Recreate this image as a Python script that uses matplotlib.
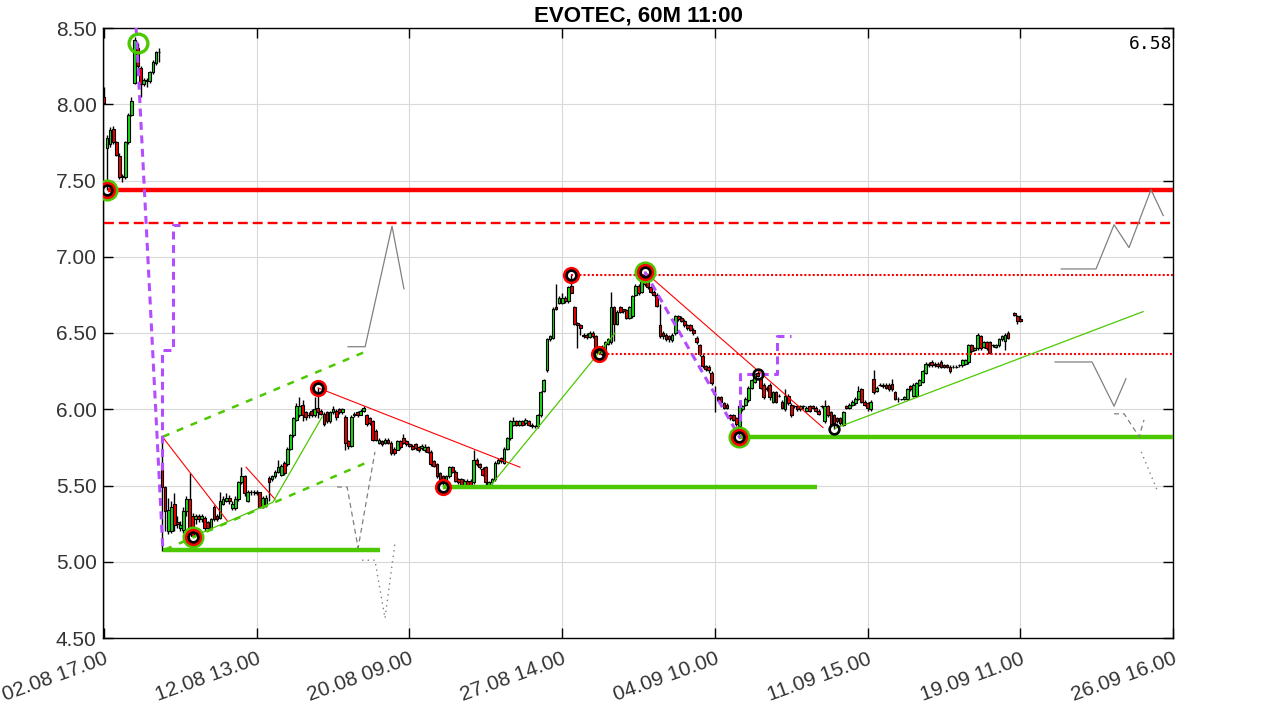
import numpy as np
import matplotlib.pyplot as plt

nan = np.nan

# hourly candles, index 0 = 02.08 17.00
opens = [8.05, 7.71, 7.74, 7.84, 7.75, 7.66, 7.53, 7.52, 7.75, 7.93,
         8.14, 8.37, 8.24, 8.13, 8.16, 8.15, 8.21, 8.27, 8.34, 5.64,
         5.49, 5.20, 5.20, 5.38, 5.26, 5.22, 5.21, 5.33, 5.41, 5.30,
         5.28, 5.30, 5.28, 5.29, 5.26, 5.22, 5.36, 5.30, 5.29, 5.38,
         5.40, 5.42, 5.35, 5.35, 5.41, 5.52, 5.56, 5.40, 5.455, 5.455,
         5.46, 5.455, 5.36, 5.37, 5.55, 5.54, 5.56, 5.59, 5.57, 5.65,
         5.64, 5.74, 5.83, 5.93, 5.96, 6.03, 5.98, 5.96, 5.99, 5.96,
         6.01, 5.99, 5.97, 5.98, 5.92, 5.98, 5.99, 6.00, 5.98, 5.95,
         5.795, 5.76, 5.96, 5.98, 5.965, 5.99, 5.965, 5.94, 5.92, 5.86,
         5.78, 5.795, 5.78, 5.80, 5.78, 5.74, 5.735, 5.79, 5.81, 5.79,
         5.77, 5.76, 5.77, 5.75, 5.745, 5.735, 5.75, 5.72, 5.66, 5.64,
         5.585, 5.56, 5.52, 5.56, 5.62, 5.59, 5.54, 5.54, 5.50, 5.53,
         5.53, 5.52, 5.67, 5.64, 5.61, 5.62, 5.50, 5.52, 5.54, 5.65,
         5.68, 5.65, 5.74, 5.81, 5.90, 5.92, 5.90, 5.92, 5.91, 5.92,
         5.90, 5.89, 5.89, 5.96, 6.12, 6.26, 6.46, 6.47, 6.67, 6.70,
         6.70, 6.73, 6.71, 6.805, 6.67, 6.565, 6.55, 6.49, 6.49, 6.475,
         6.50, 6.48, 6.40, 6.36, 6.385, 6.43, 6.44, 6.67, 6.56, 6.67,
         6.655, 6.65, 6.60, 6.61, 6.75, 6.81, 6.77, 6.88, 6.86, 6.80,
         6.77, 6.75, 6.55, 6.50, 6.49, 6.48, 6.455, 6.50, 6.61, 6.60,
         6.58, 6.555, 6.55, 6.52, 6.47, 6.42, 6.35, 6.285, 6.28, 6.24,
         6.10, 6.08, 6.08, 6.04, 6.03, 5.96, 5.96, 5.94, 5.89, 6.00,
         6.03, 6.06, 6.14, 6.18, 6.235, 6.20, 6.16, 6.14, 6.16, 6.05,
         6.11, 6.09, 6.05, 6.00, 6.09, 6.03, 6.02, 6.02, 6.00, 6.02,
         5.99, 6.02, 6.02, 6.01, 5.99, 6.02, 5.92, 6.02, 5.98, 5.96,
         5.945, 5.94, 5.90, 6.02, 6.01, 6.03, 6.04, 6.07, 6.13, 6.05,
         6.04, 6.00, 6.20, 6.12, 6.16, 6.16, 6.16, 6.16, 6.165, 6.11,
         6.07, 6.065, 6.07, 6.07, 6.15, 6.09, 6.09, 6.16, 6.18, 6.24,
         6.29, 6.31, 6.30, 6.30, 6.31, 6.29, 6.29, 6.28, 6.28, 6.28,
         6.29, 6.29, 6.30, 6.31, 6.42, 6.39, 6.40, 6.48, 6.41, 6.44,
         6.44, 6.42, 6.41, 6.42, 6.46, 6.45, 6.50, nan, 6.63, 6.61,
         6.59]
closes = [8.01, 7.78, 7.83, 7.75, 7.67, 7.52, 7.52, 7.75, 7.93, 8.02,
          8.42, 8.25, 8.13, 8.16, 8.15, 8.21, 8.28, 8.34, 8.34, 5.49,
          5.33, 5.34, 5.36, 5.24, 5.25, 5.24, 5.33, 5.41, 5.19, 5.17,
          5.30, 5.28, 5.30, 5.22, 5.22, 5.28, 5.28, 5.28, 5.40, 5.41,
          5.42, 5.40, 5.38, 5.41, 5.52, 5.56, 5.45, 5.455, 5.46, 5.455,
          5.45, 5.36, 5.42, 5.42, 5.52, 5.56, 5.59, 5.62, 5.63, 5.58,
          5.74, 5.83, 5.94, 6.02, 6.02, 5.96, 5.95, 5.96, 5.96, 6.00,
          5.98, 5.97, 5.90, 5.92, 5.98, 6.00, 5.95, 5.98, 6.00, 5.78,
          5.76, 5.95, 5.97, 5.96, 5.99, 6.01, 5.90, 5.91, 5.80, 5.80,
          5.80, 5.775, 5.80, 5.78, 5.715, 5.715, 5.79, 5.75, 5.78, 5.77,
          5.76, 5.74, 5.745, 5.73, 5.76, 5.755, 5.72, 5.64, 5.63, 5.56,
          5.54, 5.52, 5.56, 5.62, 5.59, 5.53, 5.52, 5.50, 5.53, 5.50,
          5.50, 5.67, 5.64, 5.62, 5.57, 5.52, 5.52, 5.54, 5.65, 5.67,
          5.66, 5.74, 5.81, 5.92, 5.92, 5.90, 5.92, 5.90, 5.93, 5.90,
          5.89, 5.89, 5.96, 6.11, 6.195, 6.46, 6.48, 6.66, 6.655, 6.73,
          6.73, 6.71, 6.80, 6.765, 6.56, 6.55, 6.53, 6.48, 6.475, 6.50,
          6.48, 6.38, 6.37, 6.41, 6.44, 6.46, 6.67, 6.56, 6.64, 6.64,
          6.645, 6.60, 6.67, 6.74, 6.81, 6.76, 6.84, 6.82, 6.80, 6.77,
          6.75, 6.68, 6.48, 6.48, 6.46, 6.46, 6.49, 6.61, 6.595, 6.58,
          6.55, 6.53, 6.52, 6.50, 6.44, 6.36, 6.285, 6.265, 6.255, 6.17,
          6.10, 6.06, 6.05, 6.01, 6.01, 5.94, 5.93, 5.90, 6.02, 6.02,
          6.07, 6.14, 6.19, 6.23, 6.22, 6.14, 6.08, 6.13, 6.08, 6.11,
          6.05, 6.09, 6.01, 6.09, 6.04, 5.96, 6.02, 6.00, 6.02, 6.02,
          6.01, 5.99, 6.01, 5.99, 5.97, 6.02, 6.02, 5.965, 5.90, 5.91,
          5.92, 5.91, 5.98, 6.01, 6.03, 6.05, 6.07, 6.12, 6.05, 6.03,
          6.01, 6.05, 6.11, 6.14, 6.16, 6.15, 6.14, 6.13, 6.13, 6.07,
          6.065, 6.065, 6.08, 6.13, 6.13, 6.16, 6.17, 6.19, 6.25, 6.30,
          6.30, 6.29, 6.29, 6.285, 6.28, 6.28, 6.28, 6.25, 6.28, 6.28,
          6.29, 6.325, 6.32, 6.42, 6.38, 6.40, 6.49, 6.40, 6.44, 6.40,
          6.37, 6.42, 6.42, 6.46, 6.48, 6.49, 6.47, nan, 6.62, 6.58,
          6.58]
highs = [8.11, 7.80, 7.85, 7.86, 7.76, 7.68, 7.54, 7.76, 7.94, 8.05,
         8.44, 8.40, 8.25, 8.17, 8.17, 8.22, 8.29, 8.35, 8.37, 5.82,
         5.50, 5.42, 5.40, 5.45, 5.30, 5.27, 5.36, 5.43, 5.58, 5.32,
         5.31, 5.31, 5.31, 5.30, 5.27, 5.29, 5.37, 5.31, 5.46, 5.43,
         5.45, 5.44, 5.40, 5.43, 5.53, 5.62, 5.57, 5.47, 5.47, 5.47,
         5.47, 5.46, 5.43, 5.44, 5.56, 5.57, 5.60, 5.67, 5.64, 5.66,
         5.75, 5.84, 5.95, 6.04, 6.08, 6.06, 5.99, 5.98, 6.00, 6.08,
         6.14, 6.00, 5.98, 5.99, 5.99, 6.02, 6.00, 6.01, 6.01, 5.96,
         5.80, 5.96, 5.98, 5.99, 6.00, 6.02, 5.97, 5.95, 5.93, 5.87,
         5.81, 5.80, 5.81, 5.81, 5.79, 5.75, 5.80, 5.80, 5.84, 5.80,
         5.78, 5.77, 5.78, 5.76, 5.77, 5.77, 5.76, 5.73, 5.67, 5.65,
         5.59, 5.57, 5.57, 5.63, 5.63, 5.60, 5.55, 5.55, 5.54, 5.54,
         5.54, 5.73, 5.68, 5.65, 5.62, 5.63, 5.53, 5.55, 5.66, 5.68,
         5.69, 5.75, 5.82, 5.93, 5.95, 5.93, 5.93, 5.93, 5.94, 5.93,
         5.91, 5.90, 5.97, 6.12, 6.20, 6.47, 6.49, 6.67, 6.82, 6.74,
         6.76, 6.74, 6.81, 6.88, 6.68, 6.57, 6.56, 6.50, 6.50, 6.51,
         6.51, 6.49, 6.41, 6.42, 6.45, 6.47, 6.77, 6.68, 6.65, 6.68,
         6.66, 6.66, 6.68, 6.75, 6.82, 6.82, 6.85, 6.90, 6.87, 6.81,
         6.78, 6.76, 6.69, 6.51, 6.50, 6.49, 6.50, 6.62, 6.62, 6.61,
         6.59, 6.56, 6.56, 6.53, 6.48, 6.43, 6.36, 6.29, 6.29, 6.25,
         6.15, 6.09, 6.09, 6.05, 6.04, 5.97, 5.97, 5.95, 6.03, 6.03,
         6.08, 6.15, 6.20, 6.24, 6.25, 6.21, 6.17, 6.15, 6.17, 6.12,
         6.12, 6.10, 6.06, 6.13, 6.10, 6.04, 6.03, 6.03, 6.03, 6.03,
         6.02, 6.03, 6.03, 6.02, 6.00, 6.03, 6.06, 6.03, 5.99, 5.97,
         5.95, 5.95, 5.99, 6.03, 6.04, 6.06, 6.08, 6.15, 6.14, 6.06,
         6.05, 6.06, 6.26, 6.15, 6.17, 6.17, 6.17, 6.17, 6.20, 6.12,
         6.08, 6.07, 6.09, 6.14, 6.16, 6.17, 6.18, 6.20, 6.26, 6.31,
         6.31, 6.32, 6.31, 6.31, 6.32, 6.30, 6.30, 6.29, 6.29, 6.29,
         6.30, 6.33, 6.33, 6.43, 6.43, 6.41, 6.50, 6.49, 6.45, 6.45,
         6.45, 6.43, 6.43, 6.47, 6.49, 6.50, 6.51, nan, 6.64, 6.62,
         6.62]
lows = [8.00, 7.44, 7.72, 7.74, 7.66, 7.51, 7.49, 7.51, 7.74, 7.92,
        8.13, 8.24, 8.05, 8.12, 8.11, 8.14, 8.20, 8.26, 8.28, 5.07,
        5.20, 5.18, 5.19, 5.20, 5.22, 5.20, 5.19, 5.30, 5.18, 5.16,
        5.25, 5.26, 5.26, 5.20, 5.21, 5.21, 5.27, 5.27, 5.28, 5.37,
        5.39, 5.38, 5.34, 5.34, 5.40, 5.51, 5.43, 5.39, 5.44, 5.44,
        5.44, 5.35, 5.35, 5.36, 5.40, 5.53, 5.55, 5.58, 5.56, 5.57,
        5.63, 5.73, 5.82, 5.92, 5.95, 5.92, 5.93, 5.94, 5.95, 5.95,
        5.94, 5.96, 5.89, 5.91, 5.91, 5.97, 5.93, 5.97, 5.97, 5.73,
        5.74, 5.75, 5.95, 5.95, 5.96, 5.98, 5.89, 5.90, 5.79, 5.79,
        5.77, 5.76, 5.77, 5.77, 5.70, 5.70, 5.73, 5.74, 5.77, 5.76,
        5.75, 5.73, 5.73, 5.72, 5.73, 5.72, 5.71, 5.63, 5.62, 5.55,
        5.53, 5.49, 5.51, 5.55, 5.58, 5.52, 5.51, 5.49, 5.49, 5.49,
        5.49, 5.51, 5.63, 5.61, 5.56, 5.50, 5.49, 5.51, 5.53, 5.64,
        5.65, 5.64, 5.73, 5.80, 5.89, 5.89, 5.89, 5.89, 5.90, 5.89,
        5.88, 5.88, 5.88, 5.95, 6.11, 6.245, 6.45, 6.46, 6.65, 6.69,
        6.69, 6.70, 6.70, 6.76, 6.55, 6.40, 6.49, 6.47, 6.46, 6.47,
        6.47, 6.37, 6.36, 6.35, 6.38, 6.42, 6.43, 6.45, 6.55, 6.63,
        6.63, 6.59, 6.59, 6.60, 6.74, 6.75, 6.76, 6.81, 6.79, 6.76,
        6.74, 6.67, 6.47, 6.46, 6.45, 6.44, 6.44, 6.49, 6.58, 6.57,
        6.54, 6.52, 6.51, 6.49, 6.43, 6.35, 6.27, 6.25, 6.24, 6.16,
        5.98, 6.05, 6.04, 6.00, 6.00, 5.93, 5.92, 5.89, 5.81, 5.99,
        6.02, 6.05, 6.13, 6.17, 6.21, 6.13, 6.07, 6.12, 6.06, 6.04,
        6.04, 6.08, 6.00, 5.99, 6.03, 5.95, 6.01, 5.99, 5.99, 6.00,
        5.98, 5.98, 6.00, 5.98, 5.96, 6.01, 5.91, 5.95, 5.89, 5.87,
        5.91, 5.90, 5.89, 6.00, 6.00, 6.02, 6.03, 6.06, 6.04, 6.02,
        5.99, 5.99, 6.10, 6.11, 6.15, 6.14, 6.13, 6.12, 6.12, 6.06,
        6.05, 6.06, 6.06, 6.06, 6.12, 6.08, 6.08, 6.15, 6.17, 6.23,
        6.28, 6.28, 6.28, 6.27, 6.27, 6.27, 6.27, 6.24, 6.27, 6.27,
        6.28, 6.28, 6.29, 6.30, 6.37, 6.38, 6.39, 6.39, 6.40, 6.39,
        6.36, 6.41, 6.40, 6.41, 6.45, 6.39, 6.46, nan, 6.61, 6.56,
        6.57]

tick_pos = [0, 50, 100, 150, 200, 250, 300, 350]
tick_labels = ['02.08 17.00', '12.08 13.00', '20.08 09.00', '27.08 14.00',
               '04.09 10.00', '11.09 15.00', '19.09 11.00', '26.09 16.00']
last_price = '6.58'

# horizontal levels: (price, start index)
red_solid_level = (7.44, 1.3)
red_dashed_level = (7.22, 0.0)
red_dotted_levels = [(6.88, 153), (6.36, 162)]
# thick green support: (price, start, end)
green_levels = [(5.074, 19.3, 90.4), (5.487, 111, 233.5), (5.815, 208, 350)]

red_trends = [[(19.3, 5.815), (40.3, 5.27)],
              [(46.5, 5.62), (56.0, 5.41)],
              [(70.1, 6.14), (136.2, 5.62)],
              [(177.1, 6.90), (235.4, 5.88)]]
green_trends = [[(29.1, 5.165), (55.3, 5.39), (71.4, 5.95)],
                [(126.4, 5.495), (167.3, 6.50)],
                [(239.4, 5.875), (340.2, 6.64)]]
green_channel = [[(19.3, 5.82), (87.1, 6.39)],
                 [(20.0, 5.08), (87.1, 5.66)]]
purple_lines = [[(10.5, 8.50), (19.3, 5.07)],
                [(177.1, 6.90), (208.3, 5.81)],
                [(19.0, 5.60), (19.0, 6.39), (22.5, 6.39), (22.5, 7.21), (25.0, 7.21)],
                [(208.3, 5.92), (208.3, 6.23), (220.5, 6.23), (220.5, 6.48), (225.0, 6.48)]]
gray_solid = [[(79.9, 6.41), (85.5, 6.41), (94.3, 7.20), (98.2, 6.79)],
              [(313.4, 6.92), (324.8, 6.92), (330.7, 7.21), (335.6, 7.06), (342.8, 7.44), (346.8, 7.27)],
              [(311.4, 6.31), (323.5, 6.31), (330.7, 6.02), (334.6, 6.20)]]
gray_dashed = [[(76.3, 5.49), (79.6, 5.49), (83.2, 5.09), (88.7, 5.72)],
               [(330.7, 5.97), (334.0, 5.97), (338.9, 5.82), (340.5, 5.93)]]
gray_dotted = [[(84.5, 5.01), (88.7, 5.01), (92.0, 4.63), (95.3, 5.13)],
               [(339.6, 5.72), (344.8, 5.47)]]

green_rings = [(1, 7.44), (11.1, 8.40), (29, 5.16), (177, 6.90), (208, 5.815)]
red_rings = [(1, 7.44), (29, 5.16), (70, 6.14), (111, 5.49), (153, 6.88),
             (162, 6.36), (177, 6.90), (208, 5.815)]
black_rings = red_rings + [(214, 6.23), (239, 5.87)]

RED = '#ff0000'
GREEN_LINE = '#4cc800'
PURPLE = '#b44dff'
GRAY = '#808080'

plt.rcParams['font.family'] = ['Liberation Sans', 'DejaVu Sans']

fig = plt.figure(figsize=(12.76, 7.09), dpi=100)
ax = fig.add_axes([103 / 1276, 71 / 709, 1070 / 1276, 610 / 709])

o = np.array(opens)
c = np.array(closes)
h = np.array(highs)
l = np.array(lows)
x = np.arange(len(o))
ok = ~np.isnan(o)
x, o, c, h, l = x[ok], o[ok], c[ok], h[ok], l[ok]

ax.vlines(x, l, h, color='black', lw=1.0, zorder=2)
body_col = np.where(c > o, '#16dd16', '#ee0000')
ax.bar(x, c - o, bottom=o, width=0.9, color=body_col, edgecolor='black',
       linewidth=0.8, zorder=3)

# levels
ax.plot([red_solid_level[1], 350], [red_solid_level[0]] * 2, color=RED, lw=3.2,
        solid_capstyle='butt', zorder=4)
ax.plot([red_dashed_level[1], 350], [red_dashed_level[0]] * 2, color=RED, lw=1.7,
        dashes=(4.2, 2.1), zorder=4)
for p, s in red_dotted_levels:
    ax.plot([s, 350], [p, p], color=RED, lw=1.5, dashes=(1, 1), zorder=4)
for p, s, e in green_levels:
    ax.plot([s, e], [p, p], color=GREEN_LINE, lw=3.2, solid_capstyle='butt', zorder=4)

for seg in red_trends:
    xs, ys = zip(*seg)
    ax.plot(xs, ys, color=RED, lw=0.8, zorder=4)
for seg in green_trends:
    xs, ys = zip(*seg)
    ax.plot(xs, ys, color=GREEN_LINE, lw=0.9, zorder=4)
for seg in green_channel:
    xs, ys = zip(*seg)
    ax.plot(xs, ys, color=GREEN_LINE, lw=1.8, dashes=(2.8, 3.2), zorder=4)
for seg in purple_lines:
    xs, ys = zip(*seg)
    ax.plot(xs, ys, color=PURPLE, lw=2.2, dashes=(2.6, 1.8), zorder=5)
for seg in gray_solid:
    xs, ys = zip(*seg)
    ax.plot(xs, ys, color=GRAY, lw=0.9, zorder=4)
for seg in gray_dashed:
    xs, ys = zip(*seg)
    ax.plot(xs, ys, color=GRAY, lw=0.9, dashes=(4, 3), zorder=4)
for seg in gray_dotted:
    xs, ys = zip(*seg)
    ax.plot(xs, ys, color=GRAY, lw=1.0, dashes=(1, 3), zorder=4)

# pivot rings
for xi, yi in green_rings:
    ax.plot(xi, yi, 'o', ms=13.5, mfc='none', mec=GREEN_LINE, mew=2.4, zorder=6)
for xi, yi in red_rings:
    ax.plot(xi, yi, 'o', ms=10, mfc='none', mec=RED, mew=2.4, zorder=7)
for xi, yi in black_rings:
    ax.plot(xi, yi, 'o', ms=7, mfc='none', mec='black', mew=1.9, zorder=8)

ax.set_xlim(-0.33, 350)
ax.set_ylim(4.5, 8.5)
ax.set_yticks(np.arange(4.5, 8.51, 0.5))
ax.set_yticklabels(['%.2f' % v for v in np.arange(4.5, 8.51, 0.5)])
ax.set_xticks(tick_pos)
ax.set_xticklabels(tick_labels)
ax.grid(True, color='#d9d9d9', lw=0.8)
ax.set_axisbelow(True)
ax.tick_params(direction='in', length=7, width=1, top=True, right=True,
               labelsize=15, labelcolor='#333333')
ax.tick_params(axis='y', pad=4.5)
ax.tick_params(axis='x', pad=8)
plt.setp(ax.get_xticklabels(), rotation=20, ha='right', rotation_mode='anchor')
for sp in ax.spines.values():
    sp.set_linewidth(1.0)

ax.set_title('EVOTEC, 60M 11:00', fontsize=16, fontweight='bold', pad=5)
ax.text(0.999, 0.988, last_price, transform=ax.transAxes, ha='right', va='top',
        family='DejaVu Sans Mono', fontsize=13)

fig.savefig('out.png', dpi=100)
